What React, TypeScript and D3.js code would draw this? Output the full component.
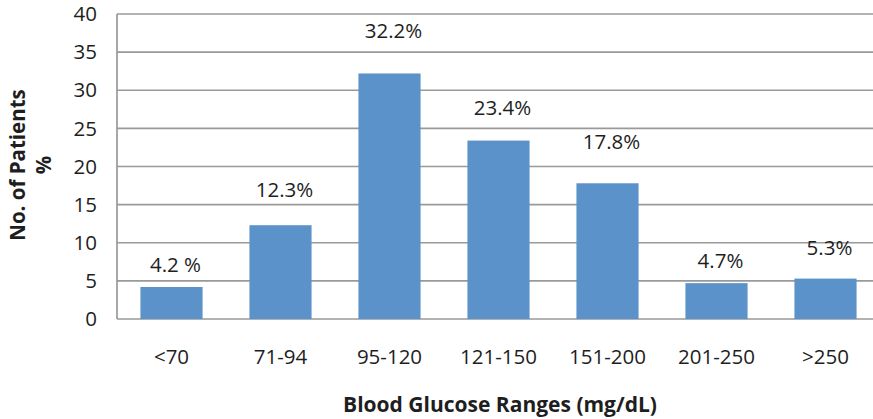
import * as d3 from 'd3';

// --- Data ---
const categories = ['<70', '71-94', '95-120', '121-150', '151-200', '201-250', '>250'];
const patientPct = [4.2, 12.3, 32.2, 23.4, 17.8, 4.7, 5.3];
const barLabels = ['4.2 %', '12.3%', '32.2%', '23.4%', '17.8%', '4.7%', '5.3%'];
// where each value label sits, in axis units (hand-placed in the original)
const labelLevels = [7.1, 17.0, 37.8, 27.7, 23.2, 7.6, 9.3];
const yTicks = [0, 5, 10, 15, 20, 25, 30, 35, 40];

const W = 873;
const H = 419;
const plot = { left: 117, right: 880, top: 14, bottom: 319 };
const FONT = '"Open Sans", "Liberation Sans", sans-serif';
const INK = '#1e1e1e';

const App = () => {
    const x = d3.scaleBand<string>()
        .domain(categories)
        .range([plot.left, plot.right])
        .paddingInner(0.43)
        .paddingOuter(0.215);

    const y = d3.scaleLinear().domain([0, 40]).range([plot.bottom, plot.top]);

    return (
        <div style={{ position: 'absolute', left: 0, top: 0, width: W, height: H, background: '#fff' }}>
            <svg width={W} height={H} style={{ display: 'block' }}>
                {/* gridlines */}
                {yTicks.map(t => (
                    <line key={t} x1={plot.left} x2={W} y1={y(t)} y2={y(t)}
                          stroke="#999" strokeWidth={1.7} />
                ))}
                <line x1={plot.left} x2={plot.left} y1={plot.top} y2={plot.bottom}
                      stroke="#999" strokeWidth={1.7} />

                {/* bars */}
                {categories.map((c, i) => (
                    <rect key={c} x={x(c)} y={y(patientPct[i])} width={x.bandwidth()}
                          height={y(0) - y(patientPct[i])} fill="#5b92c9" />
                ))}

                {/* value labels */}
                {categories.map((c, i) => (
                    <text key={c} x={(x(c) ?? 0) + x.bandwidth() / 2 + 4} y={y(labelLevels[i])}
                          dy="0.35em" textAnchor="middle" fontFamily={FONT} fontSize={20.5} fill={INK}>
                        {barLabels[i]}
                    </text>
                ))}

                {/* y tick labels */}
                {yTicks.map(t => (
                    <text key={t} x={97} y={y(t)} dy="0.35em" textAnchor="end"
                          fontFamily={FONT} fontSize={20.5} fill={INK}>{t}</text>
                ))}

                {/* x tick labels */}
                {categories.map(c => (
                    <text key={c} x={(x(c) ?? 0) + x.bandwidth() / 2} y={357} dy="0.35em"
                          textAnchor="middle" fontFamily={FONT} fontSize={20.5} fill={INK}>{c}</text>
                ))}

                {/* axis titles */}
                <text x={500} y={405} dy="0.35em" textAnchor="middle" fontFamily={FONT}
                      fontSize={21} fontWeight="bold" fill={INK}>Blood Glucose Ranges (mg/dL)</text>
                <text transform="translate(18,165) rotate(-90)" dy="0.35em" textAnchor="middle"
                      fontFamily={FONT} fontSize={20.5} fontWeight="bold" fill={INK}>No. of Patients</text>
                <text transform="translate(44,165) rotate(-90)" dy="0.35em" textAnchor="middle"
                      fontFamily={FONT} fontSize={20.5} fontWeight="bold" fill={INK}>%</text>
            </svg>
        </div>
    );
};

export default App;
